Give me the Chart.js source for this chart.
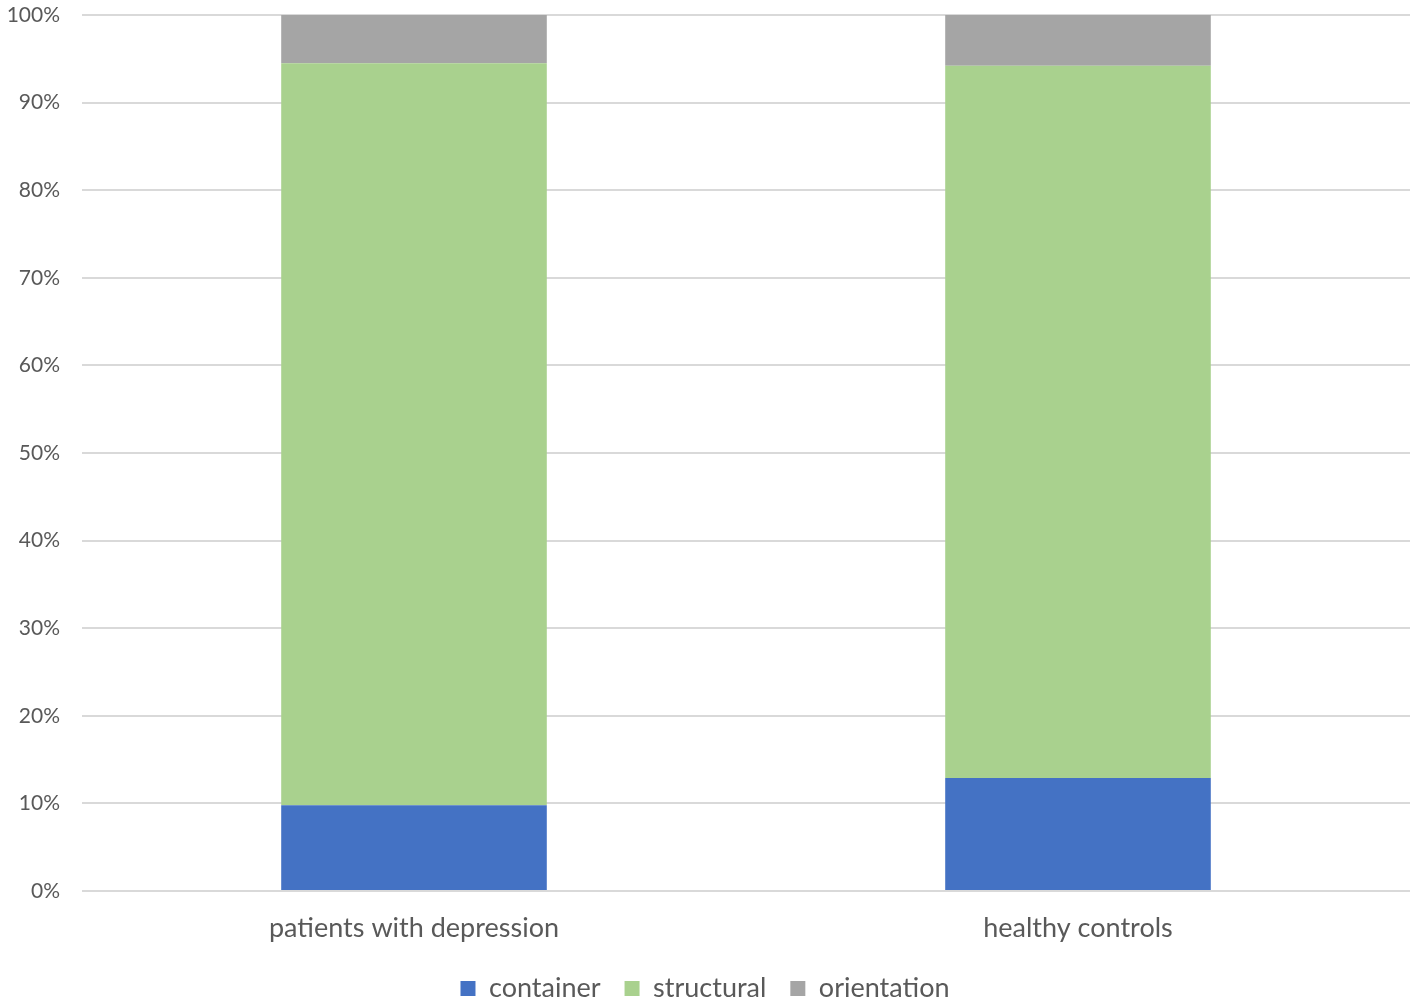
<!DOCTYPE html>
<html>
<head>
<meta charset="utf-8">
<script src="https://cdn.jsdelivr.net/npm/chart.js@4/dist/chart.umd.min.js"></script>
<style>
  body { margin: 0; background: #fff; }
  #wrap { width: 1414px; height: 1006px; position: relative; }
</style>
</head>
<body>
<div id="wrap"><canvas id="myChart"></canvas></div>
<script>
const categories = ['patients with depression', 'healthy controls'];
const container = [9.8, 12.9];
const structural = [84.7, 81.3];
const orientation = [5.5, 5.8];
const yTicks = [0, 10, 20, 30, 40, 50, 60, 70, 80, 90, 100];

const textColor = '#595959';
const fontFamily = 'Lato, "Open Sans", sans-serif';

const datasets = [
  { label: 'container', data: container, backgroundColor: '#4472C4' },
  { label: 'structural', data: structural, backgroundColor: '#A9D18E' },
  { label: 'orientation', data: orientation, backgroundColor: '#A5A5A5' }
];

const config = {
  type: 'bar',
  data: { labels: categories, datasets },
  options: {
    responsive: true,
    maintainAspectRatio: false,
    animation: false,
    datasets: { bar: { barPercentage: 0.4, categoryPercentage: 1 } },
    layout: { padding: { top: 0, right: 4, left: 0, bottom: -6 } },
    plugins: {
      tooltip: { enabled: false },
      legend: {
        position: 'bottom',
        labels: {
          color: textColor,
          font: { family: fontFamily, size: 27 },
          boxWidth: 15,
          boxHeight: 15,
          padding: 24
        }
      }
    },
    scales: {
      x: {
        stacked: true,
        grid: { display: false },
        border: { display: false },
        afterFit: (axis) => { axis.height = 60; },
        ticks: { color: textColor, font: { family: fontFamily, size: 27 }, padding: 13 }
      },
      y: {
        stacked: true,
        min: 0,
        max: 100,
        afterBuildTicks: (axis) => { axis.ticks = yTicks.map(v => ({ value: v })); },
        afterFit: (axis) => { axis.width = 82; axis.paddingTop = 15; axis.paddingBottom = 13; },
        grid: { color: '#d9d9d9', lineWidth: 2, drawTicks: false },
        border: { display: false },
        ticks: {
          color: textColor,
          font: { family: fontFamily, size: 21 },
          padding: 22,
          callback: (v) => v + '%'
        }
      }
    }
  }
};

new Chart(document.getElementById('myChart'), config);
</script>
</body>
</html>
